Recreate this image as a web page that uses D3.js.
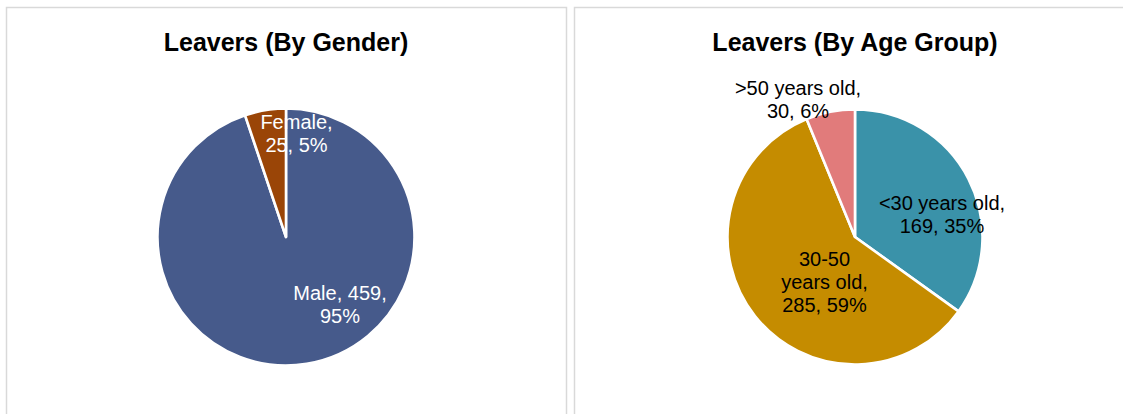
<!DOCTYPE html>
<html>
<head>
<meta charset="utf-8">
<script src="https://cdn.jsdelivr.net/npm/d3@7"></script>
<style>
  html, body { margin: 0; padding: 0; background: #ffffff; }
  svg { display: block; }
  text { font-family: Arial, "Liberation Sans", sans-serif; }
</style>
</head>
<body>
<svg id="chart" width="1123" height="414"></svg>
<script>
// ---- Data ----
const genderTitle = "Leavers (By Gender)";
const genderCategories = ["Male", "Female"];
const genderValues = [459, 25];

const ageTitle = "Leavers (By Age Group)";
const ageCategories = ["<30 years old", "30-50 years old", ">50 years old"];
const ageValues = [169, 285, 30];

// ---- Styles / layout (kept separate from data) ----
const genderColors = ["#465A8B", "#9A4507"];
const ageColors = ["#3A92A9", "#C58C00", "#E17B7B"];
const genderLabelColors = ["#ffffff", "#ffffff"];
const ageLabelColors = ["#000000", "#000000", "#000000"];
// label anchor offsets (dx, dy of first baseline) relative to pie centre, and wrap widths
const genderLabelLayout = [
  { dx: 54, dy: 63, wrap: 100 },
  { dx: 10.5, dy: -108, wrap: 80 }
];
const ageLabelLayout = [
  { dx: 87, dy: -27.5, wrap: 130 },
  { dx: -30.5, dy: 29, wrap: 90 },
  { dx: -57, dy: -142, wrap: 130 }
];

const panels = [
  { x: 6, y: 7, w: 560, cx: 286, cy: 237, r: 128.5, title: genderTitle,
    cats: genderCategories, vals: genderValues, colors: genderColors,
    labelColors: genderLabelColors, labelLayout: genderLabelLayout },
  { x: 574, y: 7, w: 562, cx: 855, cy: 237, r: 127.5, title: ageTitle,
    cats: ageCategories, vals: ageValues, colors: ageColors,
    labelColors: ageLabelColors, labelLayout: ageLabelLayout }
];

const svg = d3.select("#chart");
const LABEL_SIZE = 20;
const LINE_H = 23;

// measuring helper
const measurer = svg.append("text").attr("font-size", LABEL_SIZE).attr("visibility", "hidden");
function textWidth(s) { measurer.text(s); return measurer.node().getComputedTextLength(); }
function wrap(str, maxW) {
  const words = str.split(" ");
  const lines = [];
  let cur = "";
  words.forEach(w => {
    const test = cur ? cur + " " + w : w;
    if (cur && textWidth(test) > maxW) { lines.push(cur); cur = w; }
    else cur = test;
  });
  if (cur) lines.push(cur);
  return lines;
}

panels.forEach(p => {
  const g = svg.append("g");
  // panel border
  g.append("rect")
    .attr("x", p.x + 0.5).attr("y", p.y + 0.5)
    .attr("width", p.w).attr("height", 440)
    .attr("fill", "#ffffff")
    .attr("stroke", "#D9D9D9").attr("stroke-width", 1.5);

  // title
  g.append("text")
    .attr("x", p.cx).attr("y", 51)
    .attr("text-anchor", "middle")
    .attr("font-size", 25).attr("font-weight", "bold")
    .attr("fill", "#000000")
    .text(p.title);

  const total = d3.sum(p.vals);
  const data = p.cats.map((c, i) => ({ cat: c, val: p.vals[i], i }));
  const pie = d3.pie().value(d => d.val).sort(null);
  const arcs = pie(data);
  const color = d3.scaleOrdinal().domain(p.cats).range(p.colors);
  const arc = d3.arc().innerRadius(0).outerRadius(p.r);

  const pg = g.append("g").attr("transform", `translate(${p.cx},${p.cy})`);
  pg.selectAll("path").data(arcs).enter().append("path")
    .attr("d", arc)
    .attr("fill", d => color(d.data.cat))
    .attr("stroke", "#ffffff")
    .attr("stroke-width", 2.6)
    .attr("stroke-linejoin", "round");

  // labels
  arcs.forEach(a => {
    const d = a.data;
    const pct = Math.round(d.val / total * 100);
    const str = `${d.cat}, ${d.val}, ${pct}%`;
    const lay = p.labelLayout[d.i];
    const lines = wrap(str, lay.wrap);
    const t = pg.append("text")
      .attr("text-anchor", "middle")
      .attr("font-size", LABEL_SIZE)
      .attr("fill", p.labelColors[d.i]);
    lines.forEach((ln, k) => {
      t.append("tspan").attr("x", lay.dx).attr("y", lay.dy + k * LINE_H).text(ln);
    });
  });
});
measurer.remove();
</script>
</body>
</html>
